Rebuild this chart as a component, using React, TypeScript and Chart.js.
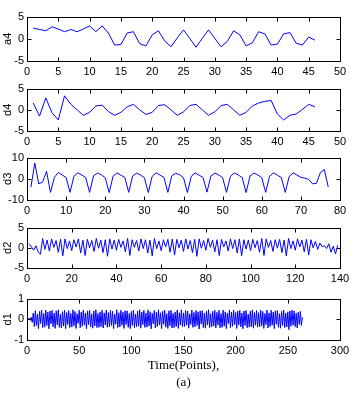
import React, { useEffect, useRef } from 'react';
import { Chart, registerables } from 'chart.js';

Chart.register(...registerables);

// ---------- data ----------
const a4Values = [2.4, 2.1, 1.8, 2.7, 2.2, 1.6, 2.1, 1.6, 2.2, 2.9, 1.6, 2.9, 1.3, -1.4, -1.3, 1.3, 1.6, -1.1, -1.6, 0.9, 1.8, -0.5, -1.8, 0.2, 2.0, 0.1, -1.9, 0.1, 2.0, 0.1, -1.8, -0.6, 1.8, 0.9, -1.6, -0.9, 1.6, 1.1, -1.4, -1.2, 1.1, 1.4, -1.0, -1.4, 0.4, -0.3];

const d4Values = [1.6, -1.5, 2.8, -0.7, -2.4, 3.3, 1.3, 0, -1.3, -0.6, 0.9, 1.1, -0.4, -1.3, -0.6, 0.7, 1.3, 0, -1.1, -0.6, 1.0, 1.2, 0, -1.3, -0.5, 1.0, 1.3, 0, -1.3, -0.5, 1.0, 1.3, 0, -1.3, -0.6, 0.9, 1.6, 2.0, 2.2, -1.0, -2.4, -1.3, -1.0, 0.1, 1.3, 0.7];

const d3Values = [
  -3.9, 7.4, -2.4, -1.5, 3.5, -6.4, 0.6, 3.0, 1.8, 0.6, -6.4,
  1.2, 2.8, 1.8, 0.6, -6.4,
  1.4, 2.7, 1.9, 0.5, -6.5,
  1.2, 2.8, 1.7, 0.6, -6.4,
  1.3, 2.7, 1.8, 0.5, -6.5,
  1.2, 2.8, 1.8, 0.6, -6.4,
  1.4, 2.6, 1.9, 0.5, -6.5,
  1.2, 2.8, 1.7, 0.6, -6.3,
  1.3, 2.7, 1.8, 0.5, -6.4,
  1.2, 2.8, 1.8, 0.6, -6.5,
  1.3, 2.7, 1.8, 0.5, -6.4,
  1.2, 2.8, 1.7, 0.6, -6.4,
  1.0, 2.8, 1.8, 0.7, 0.3, -0.3, -2.4, -2.1, 3.0, 4.4, -3.9,
];

const d2Values = [
  1.0, 0.2, -0.6, 0.5, -1.0, -1.6,
  2.3, -0.4, 1.9, -0.8, 2.2, 0.1, 1.8, -1.1, 2.1, -2.0,
  2.2, -0.2, 1.7, -0.7, 2.0, 0.2, 2.2, -1.3, 1.9, -1.9,
  2.1, 0.0, 1.8, -0.9, 2.3, -0.1, 1.9, -1.2, 2.0, -2.1,
  2.2, -0.3, 1.9, -0.6, 2.1, 0.1, 1.7, -1.0, 2.3, -1.9,
  2.0, 0.1, 1.8, -0.8, 2.2, -0.2, 2.0, -1.3, 1.9, -2.0,
  2.3, -0.2, 1.7, -0.7, 2.0, 0.2, 2.1, -1.1, 2.2, -1.8,
  2.1, 0.0, 1.9, -0.9, 2.2, -0.3, 1.8, -1.2, 2.1, -2.1,
  2.2, -0.1, 1.8, -0.6, 2.3, 0.1, 1.9, -1.0, 2.0, -1.9,
  2.1, 0.2, 1.7, -0.8, 2.2, -0.2, 2.0, -1.3, 2.2, -2.0,
  2.0, -0.3, 1.9, -0.7, 2.1, 0.0, 1.8, -1.1, 2.3, -1.9,
  2.2, 0.1, 1.8, -0.9, 2.0, -0.1, 2.1, -1.2, 1.9, -2.0,
  2.3, -0.2, 1.7, -0.6, 2.2, 0.2, 1.9, -1.0, 2.1, -1.8,
  2.0, 0.0, 1.6, -0.4, 1.2, 0.3, 0.5,
  -0.2, 1.0, -1.1, 0.4, -1.5, 0.6,
];

const d1Values = [
  0.0, 0.05, -0.05, 0.1, -0.15, 0.3, -0.35, 0.42, -0.3, 0.25, -0.45, 0.38,
  -0.2, 0.45, -0.4, 0.28, -0.38, 0.44, -0.3, 0.35, -0.46, 0.4, -0.22, 0.43,
  -0.36, 0.3, -0.44, 0.41, -0.27, 0.46, -0.39, 0.24, -0.42, 0.37, -0.33, 0.45,
  -0.45, 0.33, -0.25, 0.42, -0.4, 0.29, -0.37, 0.46, -0.31, 0.38, -0.44, 0.27,
  -0.2, 0.44, -0.41, 0.35, -0.34, 0.45, -0.28, 0.3, -0.46, 0.41, -0.26, 0.43,
  -0.37, 0.26, -0.43, 0.4, -0.32, 0.46, -0.4, 0.28, -0.39, 0.36, -0.35, 0.44,
  -0.42, 0.31, -0.27, 0.45, -0.38, 0.33, -0.36, 0.43, -0.3, 0.39, -0.45, 0.25,
  -0.24, 0.46, -0.4, 0.32, -0.37, 0.44, -0.29, 0.34, -0.44, 0.42, -0.25, 0.41,
  -0.39, 0.28, -0.45, 0.38, -0.3, 0.45, -0.41, 0.26, -0.36, 0.4, -0.33, 0.46,
  -0.43, 0.35, -0.26, 0.43, -0.39, 0.3, -0.38, 0.45, -0.32, 0.37, -0.46, 0.29,
  -0.22, 0.43, -0.42, 0.34, -0.35, 0.46, -0.27, 0.32, -0.45, 0.39, -0.24, 0.44,
  -0.38, 0.27, -0.44, 0.41, -0.31, 0.44, -0.42, 0.29, -0.4, 0.35, -0.34, 0.45,
  -0.44, 0.32, -0.28, 0.46, -0.37, 0.31, -0.35, 0.42, -0.29, 0.4, -0.43, 0.26,
  -0.25, 0.45, -0.39, 0.33, -0.36, 0.43, -0.3, 0.36, -0.47, 0.41, -0.23, 0.42,
  -0.4, 0.29, -0.43, 0.39, -0.28, 0.46, -0.4, 0.27, -0.37, 0.38, -0.32, 0.44,
  -0.42, 0.34, -0.27, 0.44, -0.41, 0.28, -0.39, 0.45, -0.33, 0.36, -0.45, 0.3,
  -0.21, 0.44, -0.4, 0.35, -0.34, 0.45, -0.26, 0.33, -0.44, 0.4, -0.27, 0.43,
  -0.37, 0.3, -0.46, 0.4, -0.3, 0.43, -0.41, 0.25, -0.38, 0.39, -0.35, 0.46,
  -0.43, 0.33, -0.29, 0.42, -0.38, 0.32, -0.36, 0.44, -0.31, 0.38, -0.44, 0.28,
  -0.26, 0.45, -0.42, 0.31, -0.35, 0.44, -0.28, 0.35, -0.45, 0.41, -0.24, 0.42,
  -0.39, 0.27, -0.43, 0.38, -0.3, 0.45, -0.4, 0.3, -0.37, 0.36, -0.5, 0.4,
  -0.34, 0.44, -0.28, 0.41, -0.36, 0.3, -0.42, 0.35, -0.25, 0.38, -0.3, 0.1,
];

const seriesLabels = ['a4', 'd4', 'd3', 'd2', 'd1'];
const xAxisMax = [50, 50, 80, 140, 300];
const xAxisStep = [5, 5, 10, 20, 50];
const yAxisLimit = [5, 5, 10, 5, 1];
const yAxisStep = [5, 5, 10, 5, 1];
const xTitleLines = ['Time(Points),', '(a)'];

// ---------- layout ----------
const PAD_TOP = 7;
const plotTops = [14, 86, 155, 225, 296];
const plotHeights = [47, 45, 45, 43, 44];

const tickFont = { family: "'Liberation Sans Narrow', 'Liberation Sans', Arial, sans-serif", size: 11 };

const boxPlugin = {
  id: 'matlabBox',
  afterDraw(chart: any) {
    const { ctx, chartArea: a, scales } = chart;
    const L = Math.round(a.left) + 0.5;
    const R = Math.round(a.right) + 0.5;
    const T = Math.round(a.top) + 0.5;
    const B = Math.round(a.bottom) + 0.5;
    const tl = 4;
    ctx.save();
    ctx.strokeStyle = '#000';
    ctx.lineWidth = 1;
    ctx.strokeRect(L, T, R - L, B - T);
    ctx.beginPath();
    for (const t of scales.x.ticks) {
      const px = Math.round(scales.x.getPixelForValue(t.value)) + 0.5;
      ctx.moveTo(px, B); ctx.lineTo(px, B - tl);
      ctx.moveTo(px, T); ctx.lineTo(px, T + tl);
    }
    for (const t of scales.y.ticks) {
      const py = Math.round(scales.y.getPixelForValue(t.value)) + 0.5;
      ctx.moveTo(L, py); ctx.lineTo(L + tl, py);
      ctx.moveTo(R, py); ctx.lineTo(R - tl, py);
    }
    ctx.stroke();
    ctx.restore();
  },
};

type SubProps = {
  idx: number;
  values: number[];
  last: boolean;
};

function Subplot({ idx, values, last }: SubProps) {
  const ref = useRef<HTMLCanvasElement>(null);
  const plotTop = plotTops[idx];
  const plotH = plotHeights[idx];
  const canvasTop = plotTop - PAD_TOP;
  const canvasH = last ? 404 - canvasTop : PAD_TOP + plotH + 20;
  const xAxisH = canvasH - PAD_TOP - plotH;

  useEffect(() => {
    const canvas = ref.current!;
    const chart = new Chart(canvas, {
      type: 'line',
      data: {
        datasets: [
          {
            data: values.map((v, i) => ({ x: i + 1, y: v })),
            borderColor: '#0000ff',
            borderWidth: 1,
            pointRadius: 0,
            tension: 0,
            fill: false,
          },
        ],
      },
      options: {
        animation: false,
        responsive: false,
        devicePixelRatio: 1,
        events: [],
        layout: { padding: { left: 0, right: 20, top: PAD_TOP, bottom: 0 } },
        plugins: { legend: { display: false }, tooltip: { enabled: false } },
        scales: {
          x: {
            type: 'linear',
            min: 0,
            max: xAxisMax[idx],
            grid: { display: false, drawTicks: false },
            border: { display: false },
            ticks: { stepSize: xAxisStep[idx], autoSkip: false, maxRotation: 0, padding: 4, color: '#000', font: tickFont },
            title: last
              ? {
                  display: true,
                  text: xTitleLines,
                  color: '#000',
                  font: { family: "'Liberation Serif', 'Times New Roman', serif", size: 13, lineHeight: 1.3 },
                  padding: { top: 0, bottom: 13 },
                }
              : { display: false },
            afterFit: (s: any) => { s.height = xAxisH; },
          },
          y: {
            type: 'linear',
            min: -yAxisLimit[idx],
            max: yAxisLimit[idx],
            grid: { display: false, drawTicks: false },
            border: { display: false },
            ticks: { stepSize: yAxisStep[idx], autoSkip: false, padding: 3, color: '#000', font: tickFont },
            title: {
              display: true,
              text: seriesLabels[idx],
              color: '#000',
              font: { family: "'Liberation Sans', Arial, sans-serif", size: 11 },
              padding: { top: 1, bottom: 0 },
            },
            afterFit: (s: any) => { s.width = 27; },
          },
        },
      } as any,
      plugins: [boxPlugin],
    });
    return () => chart.destroy();
  }, []);

  return (
    <canvas
      ref={ref}
      width={360}
      height={canvasH}
      style={{ position: 'absolute', left: 0, top: canvasTop, width: 360, height: canvasH }}
    />
  );
}

const allValues = [a4Values, d4Values, d3Values, d2Values, d1Values];

export default function App() {
  return (
    <div style={{ position: 'absolute', left: 0, top: 0, width: 360, height: 404, background: '#fff', overflow: 'hidden' }}>
      {allValues.map((vals, i) => (
        <Subplot key={seriesLabels[i]} idx={i} values={vals} last={i === allValues.length - 1} />
      ))}
    </div>
  );
}
